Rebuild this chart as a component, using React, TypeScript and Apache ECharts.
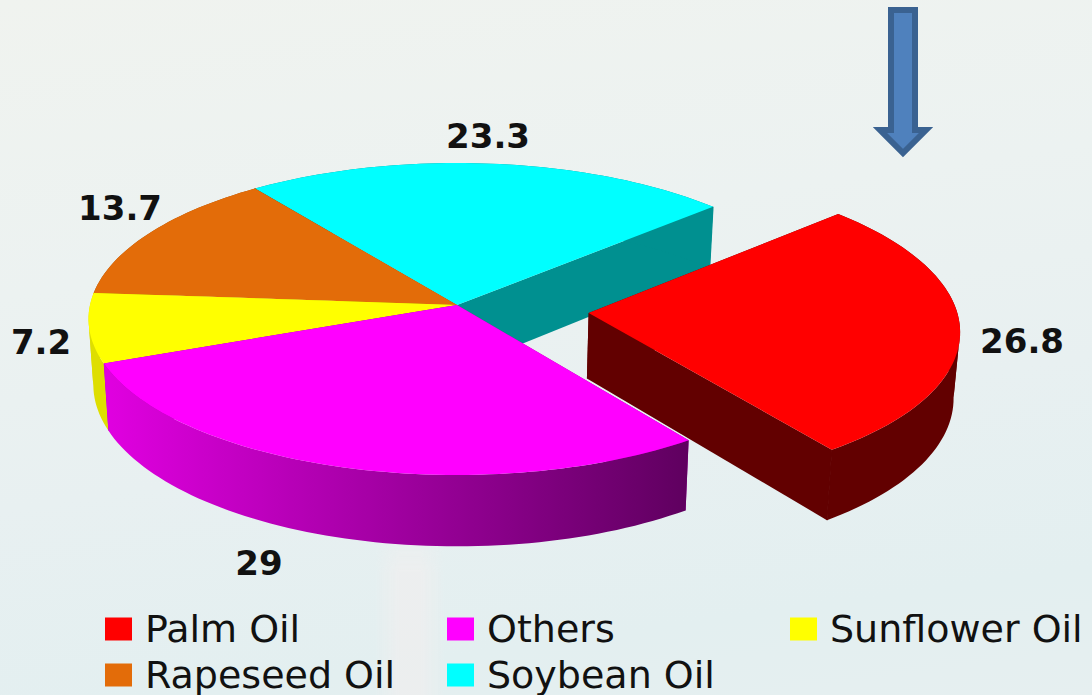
import React, { useEffect, useRef } from "react";
import * as echarts from "echarts";

const categories = ["Palm Oil", "Others", "Sunflower Oil", "Rapeseed Oil", "Soybean Oil"];
const shares = [26.8, 29, 7.2, 13.7, 23.3];
const topColors = ["#ff0000", "#ff00ff", "#ffff00", "#e36c09", "#00ffff"];
const rimColors = ["#620000", "#a000a0", "#dede00", "#a04d06", "#009090"];
const valueLabelAnchors = [
  [1022, 341],
  [259, 563],
  [41, 342],
  [120, 208],
  [488, 136],
];

// Painted back to front so that nearer slices cover the cut faces behind them.
const paintOrder = [4, 3, 2, 1, 0];
const legendColumns = [
  { left: 105, names: ["Palm Oil", "Rapeseed Oil"] },
  { left: 447, names: ["Others", "Soybean Oil"] },
  { left: 790, names: ["Sunflower Oil"] },
];

const START_ANGLE = -42.3;
const CENTER_X = 457;
const CENTER_Y = 305;
const RADIUS_X = 367;
const RADIUS_Y = 154.7;
const PERSPECTIVE = 0.0897;
const DEPTH = 65;
const BOTTOM_SHRINK = 0.987;
const EXPLODED_OFFSET = [0.357, 0.052];
const ARC_STEP = 1.5;

type Point = [number, number];

// Projects a point of the pie's unit disc on to the screen; level 1 is the underside.
function project(px: number, py: number, level: number): Point {
  const s = 1 / (1 - PERSPECTIVE * py);
  const shrink = level ? BOTTOM_SHRINK : 1;
  return [
    CENTER_X + RADIUS_X * px * s * shrink,
    CENTER_Y + RADIUS_Y * py * s + level * DEPTH * s,
  ];
}

function sliceAngles(index: number): [number, number] {
  const total = shares.reduce((a, b) => a + b, 0);
  const before = shares.slice(0, index).reduce((a, b) => a + b, 0);
  const from = START_ANGLE + (before / total) * 360;
  return [from, from + (shares[index] / total) * 360];
}

function arcPoints(index: number, level: number): Point[] {
  const [from, to] = sliceAngles(index);
  const [ox, oy] = index === 0 ? EXPLODED_OFFSET : [0, 0];
  const count = Math.ceil((to - from) / ARC_STEP);
  const out: Point[] = [];
  for (let i = 0; i <= count; i++) {
    const a = ((from + ((to - from) * i) / count) * Math.PI) / 180;
    out.push(project(ox + Math.cos(a), oy + Math.sin(a), level));
  }
  return out;
}

function apex(index: number, level: number): Point {
  const [ox, oy] = index === 0 ? EXPLODED_OFFSET : [0, 0];
  return project(ox, oy, level);
}

function rimFill(index: number) {
  if (categories[index] !== "Others") return rimColors[index];
  return new echarts.graphic.LinearGradient(
    107, 0, 688, 0,
    [
      { offset: 0, color: "#e000e0" },
      { offset: 1, color: "#5f005f" },
    ],
    true
  );
}

function renderSlice(index: number) {
  const top = arcPoints(index, 0);
  const bottom = arcPoints(index, 1);
  const a0 = apex(index, 0);
  const a1 = apex(index, 1);
  const last = top.length - 1;
  const face = (points: Point[], fill: any) => ({
    type: "polygon",
    shape: { points },
    style: { fill },
  });
  // The rim is split where the arc turns round at the disc's far left or right,
  // so the closing edge of each strip forms the tangent silhouette there.
  let turn = 0;
  top.forEach((p, i) => {
    if (Math.abs(p[0] - a0[0]) > Math.abs(top[turn][0] - a0[0])) turn = i;
  });
  const strip = (from: number, to: number) =>
    face(
      [...top.slice(from, to + 1), ...bottom.slice(from, to + 1).reverse()],
      rimFill(index)
    );
  const wallColor = rimColors[index];
  // Hides the anti-aliased hairline between a solid rim and its cut face.
  const seam =
    categories[index] === "Others"
      ? []
      : [
          {
            type: "line",
            shape: {
              x1: top[last][0],
              y1: top[last][1],
              x2: bottom[last][0],
              y2: bottom[last][1],
            },
            style: { stroke: wallColor, lineWidth: 1.2 },
          },
        ];
  const [lx, ly] = valueLabelAnchors[index];
  return {
    type: "group",
    children: [
      face([a0, top[0], bottom[0], a1], wallColor),
      face([a0, top[last], bottom[last], a1], wallColor),
      strip(0, turn),
      strip(turn, last),
      ...seam,
      face([a0, ...top], topColors[index]),
      {
        type: "text",
        x: lx,
        y: ly,
        style: {
          text: String(shares[index]),
          fill: "#111111",
          font: 'bold 34px "DejaVu Sans"',
          textAlign: "center",
          textVerticalAlign: "middle",
        },
      },
    ],
  };
}

function arrowMarker() {
  const x = 903;
  const halfShaft = 12;
  const halfHead = 23;
  const points = [
    [x - halfShaft, 10],
    [x + halfShaft, 10],
    [x + halfShaft, 130],
    [x + halfHead, 130],
    [x, 153],
    [x - halfHead, 130],
    [x - halfShaft, 130],
  ];
  return {
    type: "polygon",
    shape: { points },
    style: { fill: "#4f81bd", stroke: "#3a6291", lineWidth: 6 },
  };
}

export default function App() {
  const ref = useRef<HTMLDivElement>(null);

  useEffect(() => {
    document.body.style.margin = "0";
    const chart = echarts.init(ref.current!, null, { renderer: "svg" });
    chart.setOption({
      animation: false,
      backgroundColor: "transparent",
      legend: legendColumns.map((col) => ({
        data: col.names,
        orient: "vertical",
        left: col.left,
        top: 610,
        height: 200,
        padding: 0,
        itemGap: 8,
        itemWidth: 27,
        itemHeight: 23,
        icon: "rect",
        selectedMode: false,
        textStyle: {
          fontFamily: "DejaVu Sans",
          fontSize: 38,
          color: "#111111",
          lineHeight: 36,
          height: 36,
          padding: [0, 0, 0, 8],
        },
      })),
      graphic: [arrowMarker()],
      series: paintOrder.map((index) => ({
        type: "custom",
        name: categories[index],
        coordinateSystem: "none",
        silent: true,
        itemStyle: { color: topColors[index] },
        data: [[shares[index]]],
        renderItem: () => renderSlice(index),
      })),
    });
    return () => chart.dispose();
  }, []);

  return (
    <div
      style={{
        position: "relative",
        width: 1092,
        height: 695,
        overflow: "hidden",
        background:
          "linear-gradient(172deg, #f0f3ef 0%, #ecf2f1 35%, #e8f0f1 60%, #e3eff0 85%, #e6eff0 100%)",
      }}
    >
      {/* faint pale band low on the slide background */}
      <div
        style={{
          position: "absolute",
          left: 375,
          top: 520,
          width: 70,
          height: 175,
          opacity: 0.6,
          WebkitMaskImage: "linear-gradient(180deg, transparent 0%, black 30%)",
          maskImage: "linear-gradient(180deg, transparent 0%, black 30%)",
          background:
            "linear-gradient(90deg, rgba(245,238,238,0) 0%, rgba(245,238,238,0.85) 35%, rgba(245,238,238,0.85) 65%, rgba(245,238,238,0) 100%)",
        }}
      />
      <div ref={ref} style={{ position: "absolute", left: 0, top: 0, width: 1092, height: 695 }} />
    </div>
  );
}
